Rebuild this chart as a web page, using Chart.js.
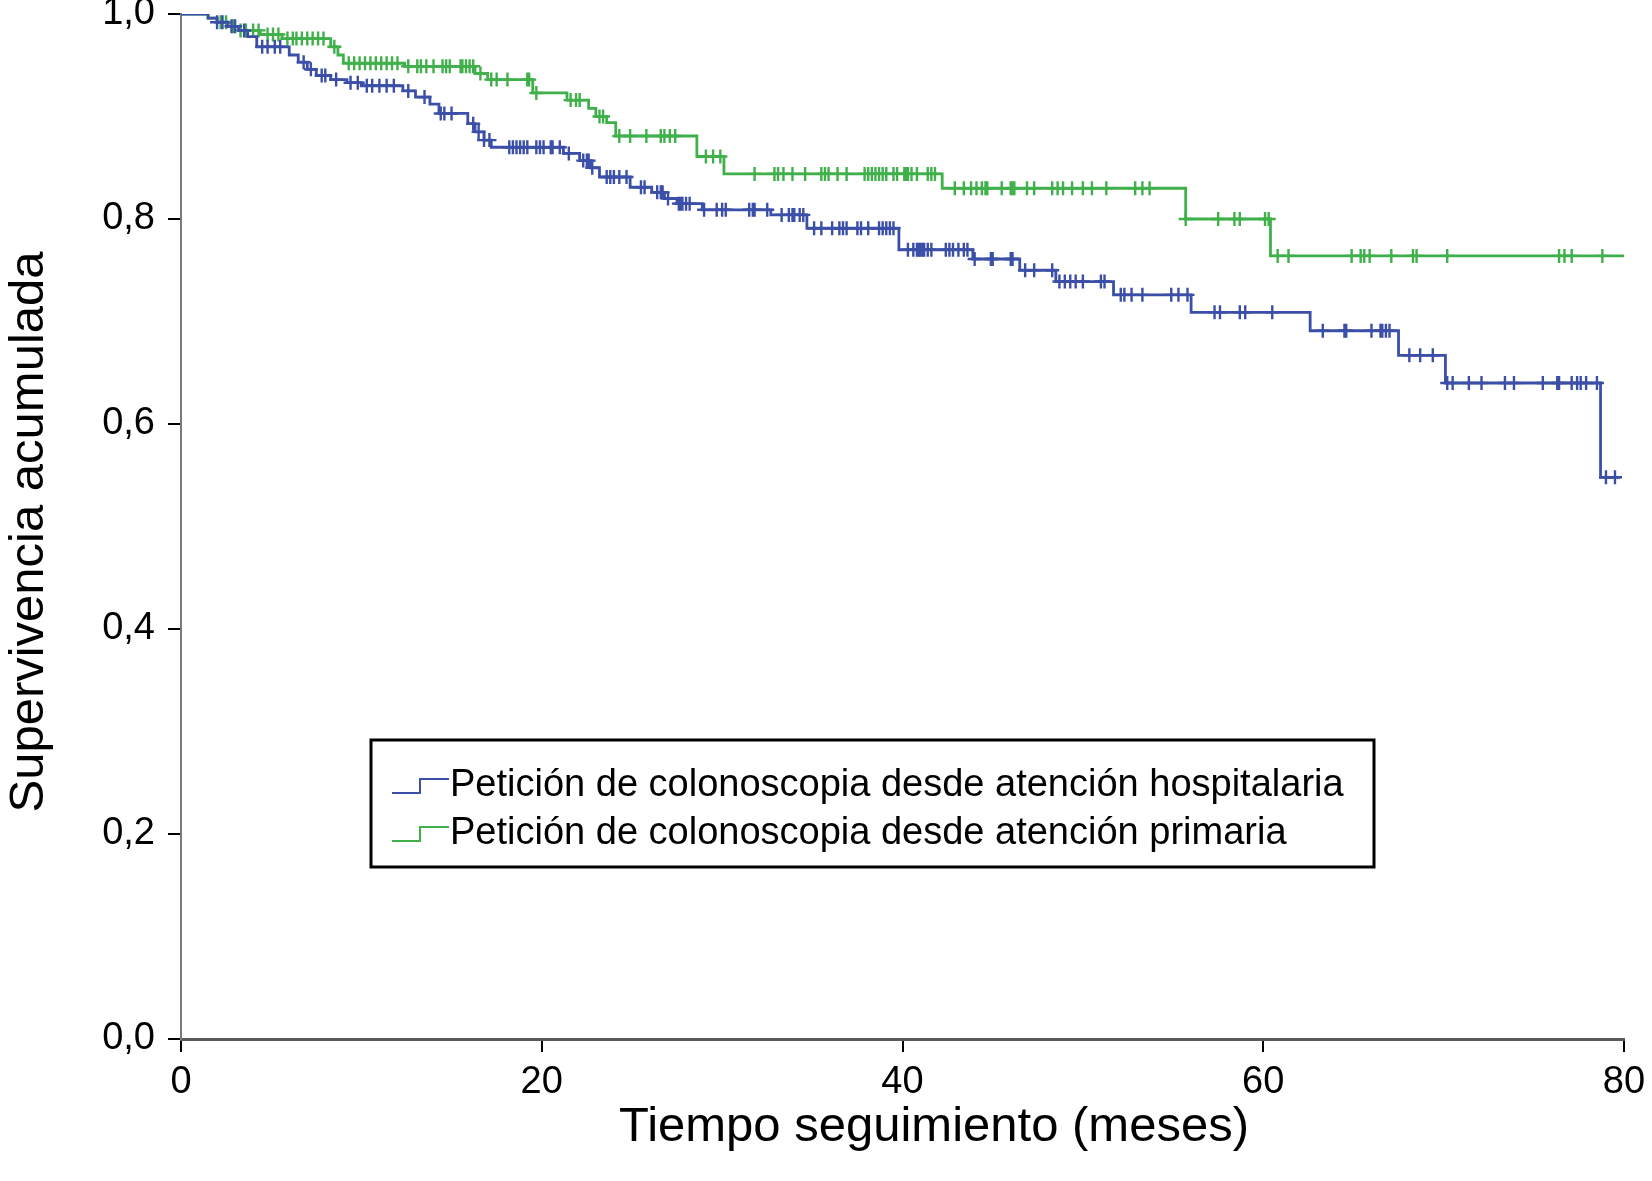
<!DOCTYPE html>
<html>
<head>
<meta charset="utf-8">
<script src="https://cdn.jsdelivr.net/npm/chart.js@4.4.0/dist/chart.umd.min.js"></script>
<style>
  html, body { margin: 0; padding: 0; background: #fff; }
  canvas { display: block; }
</style>
</head>
<body>
<canvas id="km" width="1652" height="1181"></canvas>
<script>
const FONT = '"Liberation Sans", Arial, Helvetica, sans-serif';

const xTicks = [0, 20, 40, 60, 80];
const yTicks = [0, 0.2, 0.4, 0.6, 0.8, 1.0];
const xTitle = 'Tiempo seguimiento (meses)';
const yTitle = 'Supervivencia acumulada';
const groupLabels = [
  'Petición de colonoscopia desde atención hospitalaria',
  'Petición de colonoscopia desde atención primaria'
];
const groupColors = ['#3b4fa8', '#3fb04a'];

// hospitalaria: time (months) of each step and survival after it
const hospTimes = [0, 1.5, 2.0, 2.6, 3.2, 3.7, 4.2, 6.0, 6.5, 7.0, 7.5, 8.3, 9.2, 10.0, 12.3, 13.0, 13.8, 14.3,
  15.9, 16.3, 16.8, 17.2, 21.2, 22.1, 22.7, 23.2, 24.9, 26.1, 26.8, 27.5, 28.9, 32.7, 34.7, 39.8, 43.9,
  46.5, 48.5, 51.7, 56.0, 62.6, 67.5, 70.1, 78.7, 79.8];
const hospSurv = [1, 0.996, 0.992, 0.988, 0.984, 0.978, 0.968, 0.960, 0.953, 0.946, 0.940, 0.936, 0.933, 0.930,
  0.925, 0.919, 0.912, 0.903, 0.893, 0.885, 0.877, 0.870, 0.864, 0.857, 0.850, 0.841, 0.831, 0.826, 0.820,
  0.815, 0.809, 0.804, 0.791, 0.770, 0.761, 0.750, 0.739, 0.726, 0.709, 0.691, 0.667, 0.640, 0.548, 0.548];
const hospCensored = [2.0, 2.3, 2.8, 3.0, 3.5, 4.5, 4.8, 5.2, 5.5, 6.8, 7.2, 7.8, 8.0, 8.6, 9.4, 9.8, 10.3, 10.6,
  11.0, 11.4, 11.8, 12.6, 13.5, 14.4, 14.6, 15.0, 16.2, 16.5, 16.8, 17.1, 18.2, 18.4, 18.6, 18.8, 19.0, 19.2,
  19.7, 19.9, 20.1, 20.5, 20.6, 21.0, 21.5, 22.3, 22.5, 22.6, 22.8, 23.6, 23.8, 24.0, 24.3, 24.7, 25.5, 25.7,
  26.4, 26.6, 26.7, 27.0, 27.6, 27.7, 27.8, 28.0, 28.2, 29.0, 29.7, 30.0, 30.2, 31.5, 31.7, 31.8, 32.5, 33.3,
  33.7, 33.9, 34.0, 34.3, 34.5, 35.1, 35.5, 36.1, 36.5, 36.7, 36.9, 37.5, 37.7, 38.1, 38.7, 38.9, 39.1, 39.3,
  39.5, 40.3, 40.6, 40.8, 40.9, 41.0, 41.1, 41.2, 41.4, 41.6, 42.4, 42.6, 42.8, 43.1, 43.4, 43.6, 44.0, 44.9,
  45.0, 46.0, 46.1, 46.8, 47.3, 48.3, 48.7, 49.0, 49.3, 49.6, 50.0, 51.0, 51.2, 52.1, 52.3, 52.7, 53.3, 54.9,
  55.3, 55.8, 57.3, 57.6, 58.7, 59.0, 60.5, 63.3, 64.5, 64.6, 66.0, 66.5, 66.6, 66.8, 67.0, 68.1, 68.7, 69.4,
  70.2, 70.5, 71.4, 72.1, 73.4, 73.9, 75.5, 76.3, 76.4, 77.1, 77.4, 77.6, 77.9, 78.5, 79.0, 79.5];

// primaria
const primTimes = [0, 1.5, 2.0, 2.6, 3.2, 4.4, 5.6, 8.3, 8.7, 9.0, 12.4, 16.3, 17.0, 19.5, 21.4, 22.6, 23.0,
  23.6, 24.1, 28.6, 30.1, 42.2, 55.7, 60.4, 80];
const primSurv = [1, 0.996, 0.992, 0.988, 0.984, 0.980, 0.976, 0.968, 0.960, 0.952, 0.949, 0.942, 0.936, 0.923,
  0.916, 0.908, 0.900, 0.894, 0.881, 0.861, 0.844, 0.830, 0.800, 0.764, 0.764];
const primCensored = [2.2, 2.5, 2.9, 3.3, 3.6, 4.0, 4.3, 4.8, 5.1, 5.4, 5.9, 6.2, 6.4, 6.7, 7.0, 7.3, 7.6, 7.9,
  8.5, 9.3, 9.6, 9.9, 10.2, 10.5, 10.8, 11.1, 11.4, 11.7, 12.0, 12.6, 13.1, 13.3, 13.6, 14.0, 14.5, 14.7, 14.9,
  15.5, 15.6, 15.8, 16.0, 16.2, 16.6, 17.2, 17.5, 18.1, 19.2, 19.3, 19.7, 21.6, 21.9, 22.1, 23.2, 23.4, 24.3,
  24.9, 25.8, 26.6, 26.8, 27.1, 27.4, 29.1, 29.5, 29.9, 31.8, 32.9, 33.1, 33.4, 33.9, 34.6, 35.5, 35.7, 35.9,
  36.4, 36.9, 37.9, 38.1, 38.3, 38.5, 38.7, 38.9, 39.1, 39.5, 39.7, 40.1, 40.2, 40.3, 40.5, 40.8, 41.4, 41.6,
  41.8, 42.9, 43.4, 43.8, 44.1, 44.4, 44.6, 44.7, 45.5, 46.0, 46.1, 46.2, 46.9, 47.3, 48.3, 48.6, 48.9, 49.4,
  50.0, 50.5, 51.3, 52.9, 53.3, 53.7, 55.7, 57.5, 58.4, 58.7, 60.1, 60.3, 60.8, 61.4, 64.9, 65.4, 65.6, 65.9,
  67.1, 68.3, 68.5, 70.2, 76.4, 76.7, 77.1, 78.8];

function stepPoints(times, surv) {
  return times.map((t, i) => ({x: t, y: surv[i]}));
}

// a censored case sits on the curve level in force at that time
function censorPoints(cens, times, surv) {
  return cens.map(t => {
    let k = 0;
    for (let i = 0; i < times.length; i++) if (times[i] <= t) k = i;
    return {x: t, y: surv[k]};
  });
}

function curve(label, pts, color) {
  // horizontal first, then the drop at the event time
  return {
    label: label, data: pts, borderColor: color, borderWidth: 2.8,
    stepped: 'before', pointRadius: 0, fill: false, tension: 0
  };
}

function marks(pts, color) {
  return {
    label: '', data: pts, showLine: false, borderColor: color, backgroundColor: color,
    pointStyle: 'cross', pointRadius: 7, borderWidth: 2.4
  };
}

// axis titles placed by hand, the original sits a bit off the plot centre
const axisTitles = {
  id: 'axisTitles',
  afterDraw(chart) {
    const ctx = chart.ctx;
    ctx.save();
    ctx.fillStyle = '#000';
    ctx.font = '49px ' + FONT;
    ctx.textAlign = 'center';
    ctx.textBaseline = 'middle';
    ctx.fillText(xTitle, 934, 1127);
    ctx.translate(29, 532);
    ctx.rotate(-Math.PI / 2);
    ctx.fillText(yTitle, 0, 0);
    ctx.restore();
  }
};

// boxed legend with the little step glyph, inside the plot like the original
const boxLegend = {
  id: 'boxLegend',
  afterDraw(chart) {
    const ctx = chart.ctx;
    ctx.save();
    ctx.fillStyle = '#fff';
    ctx.fillRect(371, 740, 1003, 127);
    ctx.strokeStyle = '#000';
    ctx.lineWidth = 3;
    ctx.strokeRect(371, 740, 1003, 127);
    ctx.font = '38px ' + FONT;
    ctx.textBaseline = 'alphabetic';
    ctx.textAlign = 'left';
    const baselines = [796, 844];
    groupLabels.forEach((txt, i) => {
      const b = baselines[i];
      ctx.strokeStyle = groupColors[i];
      ctx.lineWidth = 2;
      ctx.beginPath();
      ctx.moveTo(392, b - 3);
      ctx.lineTo(420, b - 3);
      ctx.lineTo(420, b - 17);
      ctx.lineTo(449, b - 17);
      ctx.stroke();
      ctx.fillStyle = '#000';
      ctx.fillText(txt, 450, b);
    });
    ctx.restore();
  }
};

new Chart(document.getElementById('km'), {
  type: 'line',
  data: {
    datasets: [
      curve(groupLabels[0], stepPoints(hospTimes, hospSurv), groupColors[0]),
      marks(censorPoints(hospCensored, hospTimes, hospSurv), groupColors[0]),
      curve(groupLabels[1], stepPoints(primTimes, primSurv), groupColors[1]),
      marks(censorPoints(primCensored, primTimes, primSurv), groupColors[1])
    ]
  },
  options: {
    responsive: false,
    animation: false,
    devicePixelRatio: 1,
    layout: { padding: { top: 14, right: 28, left: 0, bottom: 0 } },
    plugins: { legend: { display: false }, tooltip: { enabled: false } },
    scales: {
      x: {
        type: 'linear', min: 0, max: 80,
        afterBuildTicks: s => { s.ticks = xTicks.map(v => ({value: v})); },
        ticks: { color: '#000', font: { family: FONT, size: 38 }, padding: 8, maxRotation: 0, autoSkip: false },
        grid: { drawOnChartArea: false, drawTicks: true, tickLength: 13, color: '#000', lineWidth: 2 },
        border: { display: true, color: '#5a5a5a', width: 3 },
        title: { display: false },
        afterFit: s => { s.height = 142; s.paddingLeft = 0; s.paddingRight = 0; }
      },
      y: {
        type: 'linear', min: 0, max: 1,
        afterBuildTicks: s => { s.ticks = yTicks.map(v => ({value: v})); },
        ticks: { color: '#000', font: { family: FONT, size: 38 }, padding: 13, autoSkip: false,
                 callback: v => v.toFixed(1).replace('.', ',') },
        grid: { drawOnChartArea: false, drawTicks: true, tickLength: 13, color: '#000', lineWidth: 2 },
        border: { display: true, color: '#7a7a7a', width: 2 },
        title: { display: false },
        afterFit: s => { s.width = 181; s.paddingTop = 0; s.paddingBottom = 0; }
      }
    }
  },
  plugins: [axisTitles, boxLegend]
});
</script>
</body>
</html>
